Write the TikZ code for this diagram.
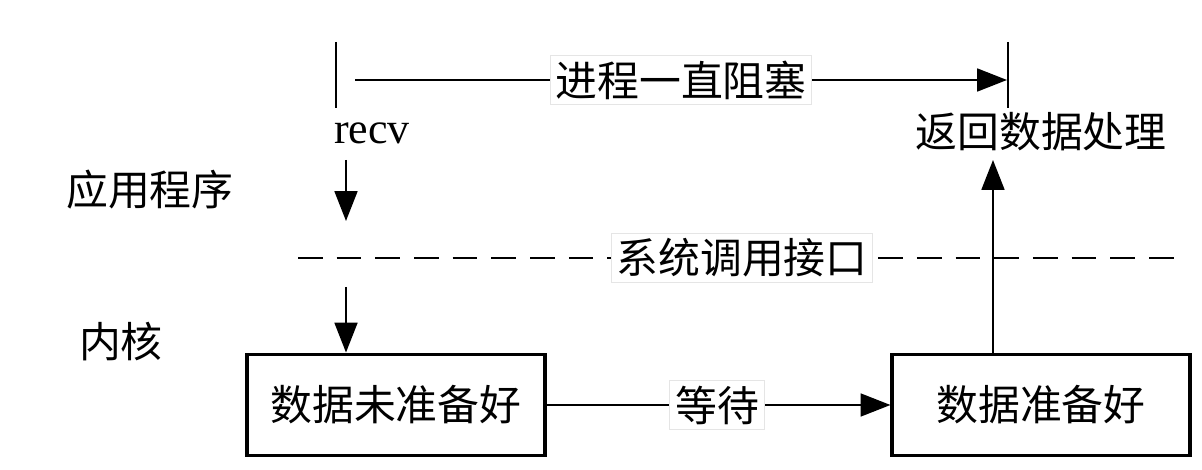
\documentclass[tikz,border=0pt]{standalone}
\usepackage{fontspec}
\setmainfont{Liberation Serif}
\newfontfamily\cjk{Noto Sans CJK SC}
\usetikzlibrary{arrows.meta}
\begin{document}
\begin{tikzpicture}[x=0.01cm,y=-0.01cm,
  txt/.style={font=\cjk\fontsize{11.9}{14}\selectfont, inner sep=1pt},
  lbl/.style={txt, fill=white, draw=gray!20, line width=0.3pt, inner sep=1.5pt},
  box/.style={txt, draw, line width=1.1pt, minimum width=2.97cm, minimum height=1.01cm},
  ln/.style={line width=0.65pt},
  arr/.style={ln, -{Triangle[length=8.5pt,width=6.5pt]}},
  dashline/.style={line width=0.75pt, dash pattern=on 7pt off 4pt}]
\useasboundingbox (0,0) rectangle (1202,470);
% ticks
\coordinate (tlA) at (336,42); \coordinate (tlB) at (336,108);
\coordinate (trA) at (1008,42); \coordinate (trB) at (1008,108);
\draw[ln] (tlA) -- (tlB);
\draw[ln] (trA) -- (trB);
% top blocking arrow
\coordinate (bs) at (355,80); \coordinate (be) at (1007,80);
\draw[arr] (bs) -- (be);
\node[lbl] (blk) at (681,80) {进程一直阻塞};
% labels
\node[font=\fontsize{12.5}{14}\selectfont, inner sep=0pt] (recv) at (372,133) {recv};
\node[txt] (app) at (150,190) {应用程序};
\node[txt] (ker) at (121,342) {内核};
\node[txt] (ret) at (1041,132) {返回数据处理};
% recv arrow
\coordinate (ra) at (346,160); \coordinate (rb) at (346,221);
\draw[arr] (ra) -- (rb);
% dashed line
\coordinate (dl) at (298,258); \coordinate (dr) at (1184,258);
\draw[dashline] (dl) -- (dr);
% boxes
\node[box] (b1) at (396,405) {数据未准备好};
\node[box] (b2) at (1041,405) {数据准备好};
% kernel arrow
\coordinate (ka) at (346,287);
\draw[arr] (ka) -- (ka |- b1.north);
% wait arrow
\draw[arr] (b1.east) -- (b2.west);
\node[lbl] (wait) at (717,405) {等待};
% return arrow
\coordinate (rt) at (993,160);
\draw[arr] (b2.north -| rt) -- (rt);
\node[lbl] (sys) at (742,258) {系统调用接口};
\end{tikzpicture}
\end{document}
